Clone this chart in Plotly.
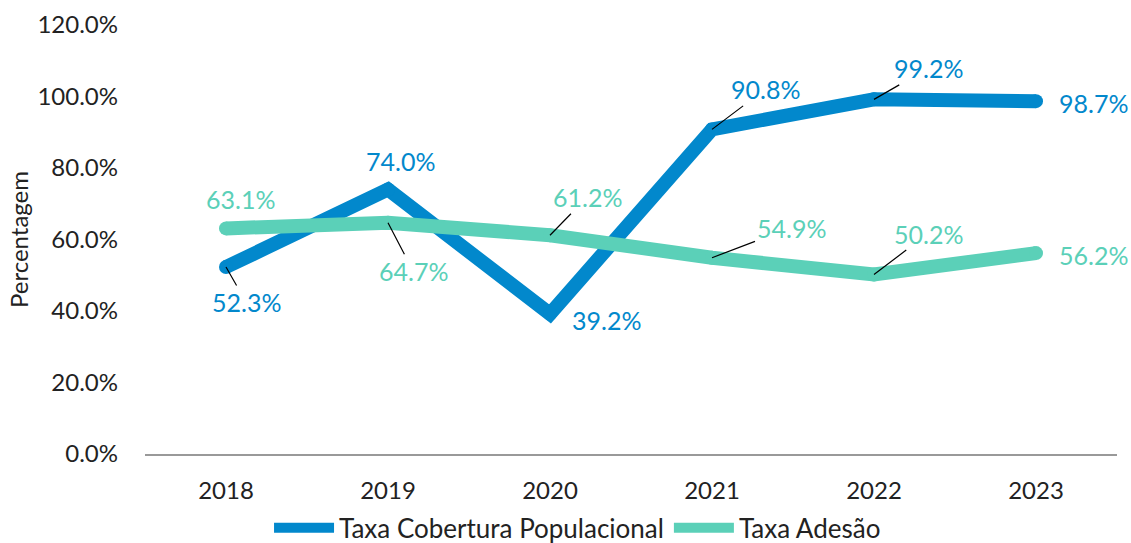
import plotly.graph_objects as go

years = ["2018", "2019", "2020", "2021", "2022", "2023"]
cobertura = [52.3, 74.0, 39.2, 90.8, 99.2, 98.7]
adesao = [63.1, 64.7, 61.2, 54.9, 50.2, 56.2]
y_ticks = [0, 20, 40, 60, 80, 100, 120]
y_tick_text = ["0.0%", "20.0%", "40.0%", "60.0%", "80.0%", "100.0%", "120.0%"]

BLUE = "#0288CC"
TEAL = "#5BD0B8"
FONT = "Lato"

# label offsets (px) and whether a leader line is drawn
cob_off = [(20, 35, True), (12, -28, False), (56, 6, False), (53, -40, True), (54, -31, True), (57, 2, False)]
ade_off = [(14, -29, False), (25, 48, True), (37, -38, True), (79, -30, True), (54, -41, True), (57, 2, False)]

fig = go.Figure()
for name, vals, col in [("Taxa Cobertura Populacional", cobertura, BLUE), ("Taxa Adesão", adesao, TEAL)]:
    fig.add_trace(go.Scatter(x=years, y=vals, mode="lines", name=name, legendgroup=name,
                             line=dict(color=col, width=14)))
    # round caps / joins
    fig.add_trace(go.Scatter(x=years, y=vals, mode="markers", name=name, legendgroup=name,
                             showlegend=False, hoverinfo="skip",
                             marker=dict(color=col, size=14, line=dict(width=0))))

for vals, offs, col in [(cobertura, cob_off, BLUE), (adesao, ade_off, TEAL)]:
    for i, (v, (ax, ay, arrow)) in enumerate(zip(vals, offs)):
        txt = f"{v:.1f}%"
        if arrow:
            fig.add_annotation(x=i, y=v, xref="x", yref="y", text=txt, showarrow=True,
                               ax=ax, ay=ay, axref="pixel", ayref="pixel",
                               arrowhead=0, arrowwidth=1.2, arrowcolor="black", standoff=0,
                               font=dict(family=FONT, size=25, color=col))
        else:
            fig.add_annotation(x=i, y=v, xref="x", yref="y", text=txt, showarrow=False,
                               xshift=ax, yshift=-ay,
                               font=dict(family=FONT, size=25, color=col))

fig.update_layout(
    width=1131, height=543,
    margin=dict(l=145, r=14, t=25, b=89),
    plot_bgcolor="white", paper_bgcolor="white",
    font=dict(family=FONT, size=24, color="#222222"),
    showlegend=True,
    legend=dict(orientation="h", x=0.445, xanchor="center", xref="paper",
                y=0.028, yanchor="middle", yref="container", bgcolor="rgba(0,0,0,0)",
                font=dict(family=FONT, size=26, color="#222222"), itemwidth=60),
    xaxis=dict(type="category", range=[-0.5, 5.5], showgrid=False, showline=True,
               linecolor="#999999", linewidth=2, ticks="", tickfont=dict(size=24),
               ticklabelstandoff=14, automargin=False),
    yaxis=dict(range=[0, 120], tickvals=y_ticks, ticktext=y_tick_text, showgrid=False,
               zeroline=False, showline=False, ticks="", tickfont=dict(size=24),
               ticklabelstandoff=26, automargin=False,
               title=dict(text="Percentagem", font=dict(size=24), standoff=2)),
)

fig.write_html("out.html", config={"displayModeBar": False},
               post_script="document.body.style.margin='0';")
